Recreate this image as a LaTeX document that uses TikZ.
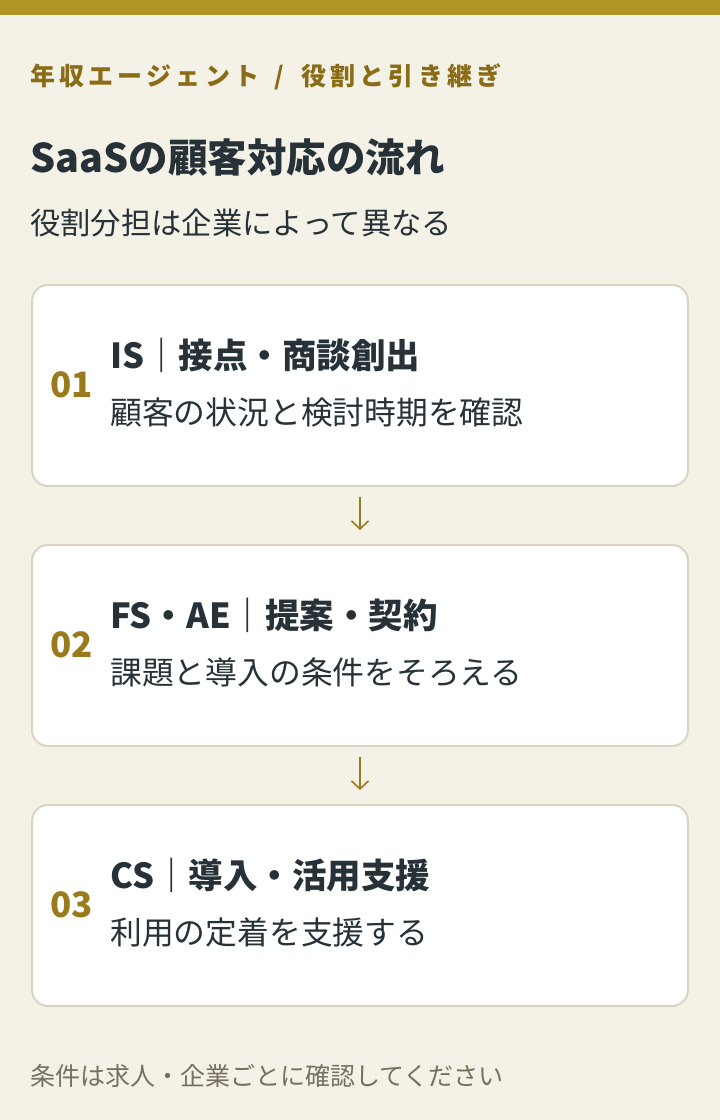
\documentclass[tikz,border=0pt]{standalone}
\usepackage{fontspec}
\setmainfont{Noto Sans CJK JP}
\usepackage{xcolor}
\usetikzlibrary{positioning, arrows.meta}

\definecolor{pagebg}{HTML}{F4F1E7}
\definecolor{topbar}{HTML}{B09526}
\definecolor{kickercol}{HTML}{8A6C16}
\definecolor{numcol}{HTML}{9A7B1C}
\definecolor{inkcol}{HTML}{263238}
\definecolor{notecol}{HTML}{77705F}
\definecolor{boxline}{HTML}{DAD5C2}

\begin{document}
\begin{tikzpicture}[x=1pt, y=-1pt, node distance=57pt,
    stepbox/.style={draw=boxline, line width=2pt, fill=white, rounded corners=16pt,
                    minimum width=656pt, minimum height=201pt, inner sep=0pt},
    txt/.style={anchor=base west, inner sep=0pt, text=inkcol},
    stepnum/.style={txt, text=numcol, font=\fontsize{35}{35}\selectfont\bfseries},
    stephead/.style={txt, font=\fontsize{34.5}{34.5}\selectfont\bfseries},
    stepdesc/.style={txt, font=\fontsize{31.8}{31.8}\selectfont},
    flowarrow/.style={draw=numcol, line width=1.6pt, -{Straight Barb[length=8pt, width=17pt]}}]
            % page
            \fill[pagebg] (0,0) rectangle (720,1120);
            \fill[topbar] (0,0) rectangle (720,15);

            \node[txt, text=kickercol, font=\fontsize{25}{25}\selectfont\bfseries\addfontfeature{LetterSpace=17}]
                                                (kicker)  at (30,85)  {年収エージェント\rule{15pt}{0pt}/\rule{17pt}{0pt}役割と引き継ぎ};
            \node[txt, font=\fontsize{39.5}{39.5}\selectfont\bfseries]
                                                (title)   at (30,172) {SaaSの顧客対応の流れ};
            \node[txt, font=\fontsize{30.3}{30.3}\selectfont]
                                                (sub)     at (30,234) {役割分担は企業によって異なる};

            % steps
            \node[stepbox]                      (box1)  at (360,385.5) {};
            \node[stepbox, below=of box1]       (box2)  {};
            \node[stepbox, below=of box2]       (box3)  {};

            \node[stepnum]  (num1)  at ([xshift=19pt, yshift=-11.5pt]box1.west) {01};
            \node[stephead] (head1) at ([xshift=79pt, yshift=17.5pt]box1.west)  {IS｜接点・商談創出};
            \node[stepdesc] (desc1) at ([xshift=79pt, yshift=-38.5pt]box1.west) {顧客の状況と検討時期を確認};

            \node[stepnum]  (num2)  at ([xshift=19pt, yshift=-11.5pt]box2.west) {02};
            \node[stephead] (head2) at ([xshift=79pt, yshift=17.5pt]box2.west)  {FS・AE｜提案・契約};
            \node[stepdesc] (desc2) at ([xshift=79pt, yshift=-38.5pt]box2.west) {課題と導入の条件をそろえる};

            \node[stepnum]  (num3)  at ([xshift=19pt, yshift=-11.5pt]box3.west) {03};
            \node[stephead] (head3) at ([xshift=79pt, yshift=17.5pt]box3.west)  {CS｜導入・活用支援};
            \node[stepdesc] (desc3) at ([xshift=79pt, yshift=-38.5pt]box3.west) {利用の定着を支援する};

            \draw[flowarrow] ([yshift=-10pt]box1.south) -- ([yshift=14pt]box2.north);
            \draw[flowarrow] ([yshift=-10pt]box2.south) -- ([yshift=14pt]box3.north);

            \node[txt, text=notecol, font=\fontsize{25}{25}\selectfont]
                                                (note)    at (30,1085) {条件は求人・企業ごとに確認してください};
        \end{tikzpicture}
\end{document}
